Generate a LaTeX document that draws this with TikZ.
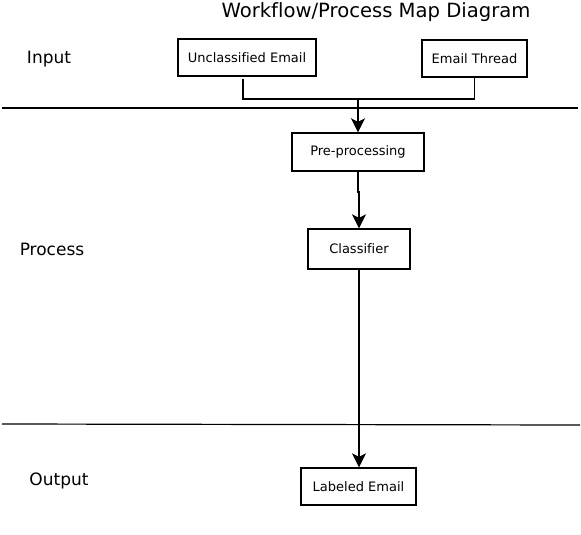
\documentclass[tikz,border=0pt]{standalone}
\usepackage{fontspec}
\setmainfont[Ligatures={NoCommon}]{DejaVu Sans}
\usetikzlibrary{arrows.meta}
\begin{document}
\begin{tikzpicture}[x=1pt,y=-1pt,
  procbox/.style={draw,line width=1.4pt,minimum height=37pt,inner sep=0pt,font=\fontsize{13}{15}\selectfont},
  lane/.style={font=\fontsize{17}{19}\selectfont},
  conn/.style={line width=1.4pt},
  arr/.style={conn,-{Stealth[length=14pt,width=14pt,inset=3.5pt]}}]
\useasboundingbox (0,0) rectangle (581,535);
\node[font=\fontsize{19.6}{22}\selectfont] (title) at (376,12) {Workflow/Process Map Diagram};
\node[lane] (inp) at (49,59.5) {Input};
\node[lane] (proc) at (52,249) {Process};
\node[lane] (outp) at (59,480.5) {Output};
\draw[line width=1.2pt] (2,108) coordinate (l1a) -- (578,108) coordinate (l1b);
\draw[line width=1.2pt] (2,424) coordinate (l2a) -- (580,425) coordinate (l2b);
\node[procbox,minimum width=138pt] (ue) at (247,57.5) {Unclassified Email};
\node[procbox,minimum width=105pt] (et) at (474.5,58.5) {Email Thread};
\node[procbox,minimum width=132pt,minimum height=38pt] (pre) at (358,152) {Pre-processing};
\node[procbox,minimum width=102pt,minimum height=40pt] (cls) at (359,249) {Classifier};
\node[procbox,minimum width=115pt] (lab) at (358.5,486.5) {Labeled Email};
\coordinate (j) at (358,99);
\draw[conn] ([xshift=-4pt,yshift=-2pt]ue.south) |- (j) -| (et.south);
\draw[arr] (j) -- (pre.north);
\draw[arr] (pre.south) -- (358,192) -- (359,192) -- ([xshift=1pt]pre.south |- cls.north);
\draw[arr] (cls.south) -- (cls.south |- lab.north);
\end{tikzpicture}
\end{document}
